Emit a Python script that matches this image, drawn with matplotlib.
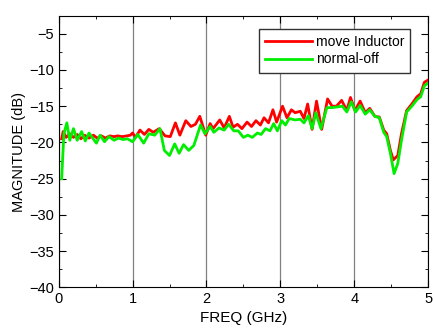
import matplotlib
matplotlib.use("Agg")
import matplotlib.pyplot as plt
from matplotlib.ticker import MultipleLocator

plt.rcParams['font.family'] = ['Liberation Sans', 'DejaVu Sans']

# frequency (GHz) / magnitude (dB)
freq_red = [0.04, 0.06, 0.10, 0.15, 0.20, 0.25, 0.30, 0.35, 0.41, 0.47, 0.52, 0.58,
            0.63, 0.69, 0.75, 0.80, 0.86, 0.92, 0.97, 1.00, 1.04, 1.10, 1.16, 1.22,
            1.28, 1.36, 1.44, 1.51, 1.58, 1.64, 1.72, 1.79, 1.85, 1.91, 1.99, 2.05,
            2.09, 2.18, 2.24, 2.31, 2.36, 2.42, 2.48, 2.55, 2.61, 2.67, 2.73, 2.78,
            2.84, 2.90, 2.95, 3.03, 3.09, 3.15, 3.20, 3.27, 3.32, 3.37, 3.43, 3.49,
            3.56, 3.64, 3.70, 3.76, 3.83, 3.90, 3.95, 4.01, 4.08, 4.15, 4.21, 4.28,
            4.34, 4.40, 4.44, 4.49, 4.53, 4.59, 4.64, 4.71, 4.78, 4.85, 4.90, 4.95, 5.00]
mag_red = [-19.5, -18.5, -19.3, -18.8, -19.3, -18.9, -19.5, -19.0, -19.4, -19.0, -19.4, -19.1,
           -19.4, -19.1, -19.2, -19.1, -19.2, -19.1, -19.0, -18.7, -19.3, -18.3, -18.9, -18.2,
           -18.6, -18.1, -19.1, -19.2, -17.3, -19.0, -17.0, -17.8, -17.5, -16.4, -19.0, -17.4,
           -18.1, -16.9, -18.0, -16.4, -17.9, -17.5, -18.1, -17.2, -17.8, -17.0, -17.6, -16.6,
           -17.3, -15.5, -17.2, -15.0, -16.6, -15.5, -15.9, -15.7, -16.7, -14.7, -18.2, -14.3,
           -18.2, -14.0, -15.0, -15.0, -14.2, -15.6, -13.8, -15.6, -14.3, -15.9, -15.3, -16.4,
           -16.5, -18.3, -18.8, -21.1, -22.4, -21.8, -18.8, -15.6, -14.7, -13.7, -13.3, -11.7, -11.4]

freq_green = [0.04, 0.07, 0.11, 0.15, 0.20, 0.25, 0.31, 0.36, 0.41, 0.46, 0.51, 0.56,
              0.62, 0.68, 0.75, 0.81, 0.87, 0.93, 1.00, 1.07, 1.15, 1.22, 1.30, 1.37,
              1.43, 1.50, 1.57, 1.63, 1.69, 1.76, 1.83, 1.92, 1.98, 2.05, 2.10, 2.17,
              2.24, 2.30, 2.37, 2.43, 2.50, 2.56, 2.62, 2.69, 2.74, 2.80, 2.86, 2.91,
              2.96, 3.02, 3.07, 3.12, 3.20, 3.27, 3.32, 3.38, 3.43, 3.48, 3.55, 3.63,
              3.70, 3.77, 3.84, 3.90, 3.96, 4.02, 4.08, 4.15, 4.21, 4.28, 4.34, 4.40,
              4.44, 4.49, 4.54, 4.59, 4.64, 4.71, 4.78, 4.85, 4.90, 4.95, 5.00]
mag_green = [-25.0, -18.8, -17.3, -19.7, -18.1, -19.7, -18.5, -19.8, -18.7, -19.4, -20.1, -19.0,
             -19.9, -19.2, -19.7, -19.4, -19.6, -19.5, -19.9, -18.9, -20.1, -18.8, -19.0, -18.1,
             -21.1, -21.8, -20.2, -21.5, -20.3, -21.1, -20.4, -17.6, -18.8, -17.8, -18.6, -18.0,
             -18.3, -17.5, -18.4, -18.4, -19.3, -19.0, -19.3, -18.7, -18.9, -18.1, -18.4, -17.4,
             -18.4, -17.0, -17.6, -16.7, -16.9, -16.8, -17.3, -16.3, -18.1, -15.9, -18.1, -15.2,
             -15.2, -15.1, -15.0, -15.8, -14.4, -15.8, -14.9, -16.1, -15.5, -16.4, -16.6, -18.6,
             -19.2, -21.5, -24.3, -22.9, -19.7, -15.8, -15.0, -14.1, -13.7, -12.2, -11.8]

fig = plt.figure(figsize=(4.33, 3.28), dpi=100)
ax = fig.add_axes([0.1356, 0.1235, 0.853, 0.8292])

ax.plot(freq_red, mag_red, color='#ff0000', lw=2.0, label='move Inductor', zorder=3)
ax.plot(freq_green, mag_green, color='#00ee00', lw=2.0, label='normal-off', zorder=4)

ax.set_xlim(0, 5)
ax.set_ylim(-40, -2.5)
ax.xaxis.set_major_locator(MultipleLocator(1))
ax.xaxis.set_minor_locator(MultipleLocator(0.5))
ax.yaxis.set_major_locator(MultipleLocator(5))
ax.yaxis.set_minor_locator(MultipleLocator(2.5))
ax.tick_params(which='both', direction='in', top=True, right=True, labelsize=10.5)
ax.tick_params(which='major', length=5)
ax.tick_params(which='minor', length=2.5)
ax.grid(axis='x', which='major', color='gray', lw=0.9)

ax.set_xlabel('FREQ (GHz)', fontsize=11, labelpad=3)
ax.set_ylabel('MAGNITUDE (dB)', fontsize=10.5, labelpad=2)

leg = ax.legend(loc='upper right', bbox_to_anchor=(0.971, 0.977), fontsize=10,
                fancybox=False, edgecolor='#333333', framealpha=1,
                handlelength=3.4, handletextpad=0.25, borderpad=0.45, labelspacing=0.25)
leg.get_frame().set_linewidth(1.0)

fig.savefig('out.png', dpi=100)
